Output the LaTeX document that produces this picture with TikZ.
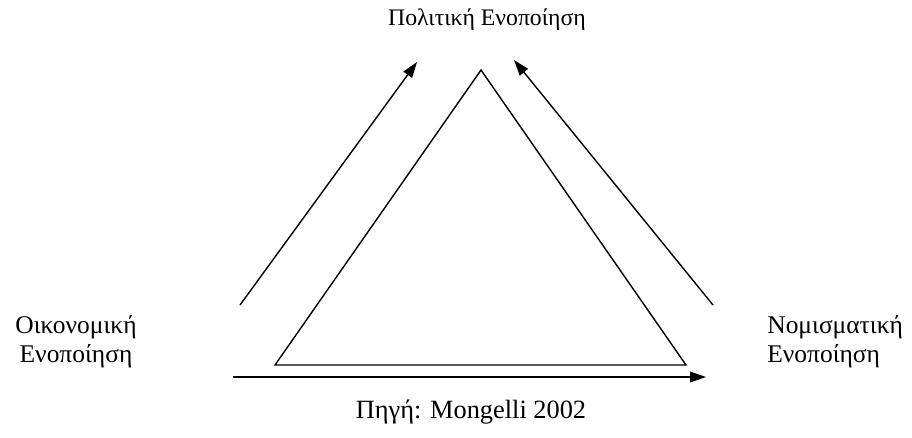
\documentclass[tikz,border=0pt]{standalone}
\usepackage{fontspec}
\setmainfont{Liberation Serif}
\usetikzlibrary{arrows.meta,positioning}

\begin{document}
\begin{tikzpicture}[x=0.02cm, y=-0.02cm,
    lbl/.style={font=\fontsize{13.5}{16.5}\selectfont, inner sep=0pt},
    side/.style={font=\fontsize{14.5}{16.5}\selectfont, inner sep=0pt},
    arr/.style={-{Triangle[length=9pt,width=6pt]}, line width=0.8pt}]
  \useasboundingbox (0,0) rectangle (912,437);

  %% Triangle corners
  \coordinate (top) at (481,70);
  \coordinate (bl)  at (275,365);
  \coordinate (br)  at (686,365);
  \draw[line width=0.8pt, line join=miter] (top) -- (bl) -- (br) -- cycle;

  %% Labels
  \node[lbl]                           (pol) at (487,20)  {Πολιτική Ενοποίηση};
  \node[side, align=center]            (oik) at (76,342)  {Οικονομική\\Ενοποίηση};
  \node[side, align=left, anchor=west] (nom) at (767,342) {Νομισματική\\Ενοποίηση};
  \node[font=\fontsize{15}{18}\selectfont, inner sep=0pt] (src) at (471,412) {Πηγή: Mongelli 2002};

  %% Arrow ends
  \coordinate (la) at (240,305);
  \coordinate (lb) at (417,62);
  \coordinate (ra) at (713,305);
  \coordinate (rb) at (514,60);
  \coordinate (ba) at (233,377);
  \coordinate (bb) at (706,377);

  %% Arrows
  \draw[arr] (la) -- (lb);
  \draw[arr] (ra) -- (rb);
  \draw[arr] (ba) -- (bb);
\end{tikzpicture}
\end{document}
